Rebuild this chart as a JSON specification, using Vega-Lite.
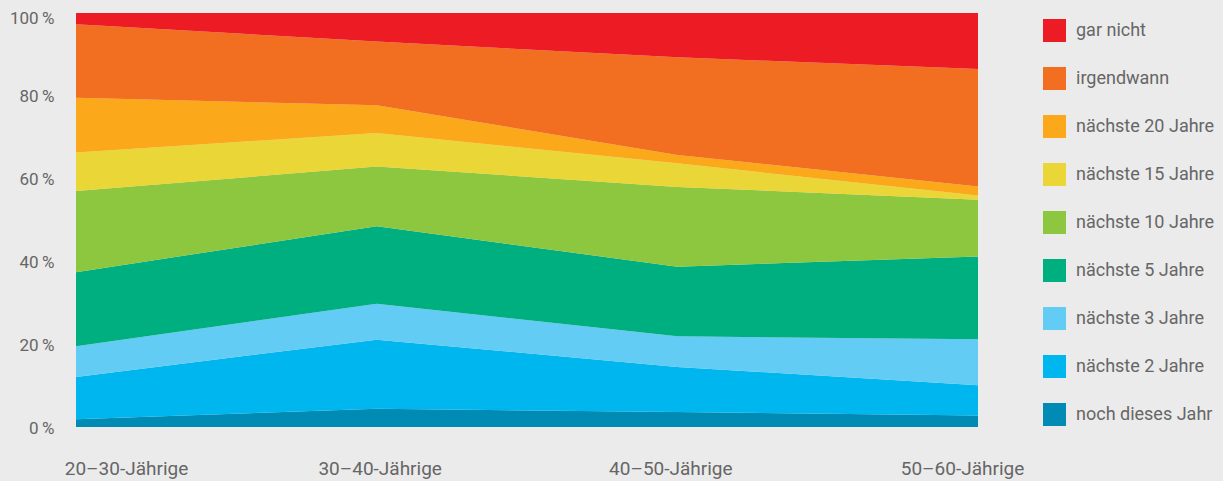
{
  "$schema": "https://vega.github.io/schema/vega-lite/v6.json",
  "width": 902,
  "height": 414,
  "autosize": {"type": "none"},
  "padding": {"left": 76, "top": 13, "right": 245, "bottom": 54},
  "background": "#EBEBEB",
  "config": {"view": {"stroke": null}, "font": "Roboto"},
  "data": {
    "values": [
      {"gruppe": "20–30-Jährige", "antwort": "noch dieses Jahr", "rang": 1, "anteil": 1.9},
      {"gruppe": "20–30-Jährige", "antwort": "nächste 2 Jahre", "rang": 2, "anteil": 10.2},
      {"gruppe": "20–30-Jährige", "antwort": "nächste 3 Jahre", "rang": 3, "anteil": 7.4},
      {"gruppe": "20–30-Jährige", "antwort": "nächste 5 Jahre", "rang": 4, "anteil": 17.9},
      {"gruppe": "20–30-Jährige", "antwort": "nächste 10 Jahre", "rang": 5, "anteil": 19.6},
      {"gruppe": "20–30-Jährige", "antwort": "nächste 15 Jahre", "rang": 6, "anteil": 9.3},
      {"gruppe": "20–30-Jährige", "antwort": "nächste 20 Jahre", "rang": 7, "anteil": 13.2},
      {"gruppe": "20–30-Jährige", "antwort": "irgendwann", "rang": 8, "anteil": 17.8},
      {"gruppe": "20–30-Jährige", "antwort": "gar nicht", "rang": 9, "anteil": 2.7},
      {"gruppe": "30–40-Jährige", "antwort": "noch dieses Jahr", "rang": 1, "anteil": 4.4},
      {"gruppe": "30–40-Jährige", "antwort": "nächste 2 Jahre", "rang": 2, "anteil": 16.7},
      {"gruppe": "30–40-Jährige", "antwort": "nächste 3 Jahre", "rang": 3, "anteil": 8.7},
      {"gruppe": "30–40-Jährige", "antwort": "nächste 5 Jahre", "rang": 4, "anteil": 18.7},
      {"gruppe": "30–40-Jährige", "antwort": "nächste 10 Jahre", "rang": 5, "anteil": 14.4},
      {"gruppe": "30–40-Jährige", "antwort": "nächste 15 Jahre", "rang": 6, "anteil": 8.1},
      {"gruppe": "30–40-Jährige", "antwort": "nächste 20 Jahre", "rang": 7, "anteil": 6.7},
      {"gruppe": "30–40-Jährige", "antwort": "irgendwann", "rang": 8, "anteil": 15.4},
      {"gruppe": "30–40-Jährige", "antwort": "gar nicht", "rang": 9, "anteil": 6.9},
      {"gruppe": "40–50-Jährige", "antwort": "noch dieses Jahr", "rang": 1, "anteil": 3.6},
      {"gruppe": "40–50-Jährige", "antwort": "nächste 2 Jahre", "rang": 2, "anteil": 10.9},
      {"gruppe": "40–50-Jährige", "antwort": "nächste 3 Jahre", "rang": 3, "anteil": 7.4},
      {"gruppe": "40–50-Jährige", "antwort": "nächste 5 Jahre", "rang": 4, "anteil": 16.8},
      {"gruppe": "40–50-Jährige", "antwort": "nächste 10 Jahre", "rang": 5, "anteil": 19.3},
      {"gruppe": "40–50-Jährige", "antwort": "nächste 15 Jahre", "rang": 6, "anteil": 5.7},
      {"gruppe": "40–50-Jährige", "antwort": "nächste 20 Jahre", "rang": 7, "anteil": 2.0},
      {"gruppe": "40–50-Jährige", "antwort": "irgendwann", "rang": 8, "anteil": 23.6},
      {"gruppe": "40–50-Jährige", "antwort": "gar nicht", "rang": 9, "anteil": 10.7},
      {"gruppe": "50–60-Jährige", "antwort": "noch dieses Jahr", "rang": 1, "anteil": 2.8},
      {"gruppe": "50–60-Jährige", "antwort": "nächste 2 Jahre", "rang": 2, "anteil": 7.3},
      {"gruppe": "50–60-Jährige", "antwort": "nächste 3 Jahre", "rang": 3, "anteil": 11.1},
      {"gruppe": "50–60-Jährige", "antwort": "nächste 5 Jahre", "rang": 4, "anteil": 20.0},
      {"gruppe": "50–60-Jährige", "antwort": "nächste 10 Jahre", "rang": 5, "anteil": 13.7},
      {"gruppe": "50–60-Jährige", "antwort": "nächste 15 Jahre", "rang": 6, "anteil": 1.0},
      {"gruppe": "50–60-Jährige", "antwort": "nächste 20 Jahre", "rang": 7, "anteil": 2.2},
      {"gruppe": "50–60-Jährige", "antwort": "irgendwann", "rang": 8, "anteil": 28.4},
      {"gruppe": "50–60-Jährige", "antwort": "gar nicht", "rang": 9, "anteil": 13.5}
    ]
  },
  "mark": {"type": "area", "interpolate": "linear"},
  "encoding": {
    "x": {
      "field": "gruppe",
      "type": "ordinal",
      "sort": ["20–30-Jährige", "30–40-Jährige", "40–50-Jährige", "50–60-Jährige"],
      "scale": {"type": "point", "padding": 0},
      "axis": {
        "title": null,
        "domain": false,
        "ticks": false,
        "labelAngle": 0,
        "labelOverlap": false,
        "labelFontSize": 19,
        "labelColor": "#666666",
        "labelPadding": 32,
        "labelOffset": {
          "condition": [
            {"test": "datum.value === '20–30-Jährige'", "value": 50},
            {"test": "datum.value === '30–40-Jährige'", "value": 3},
            {"test": "datum.value === '40–50-Jährige'", "value": -7}
          ],
          "value": -16
        }
      }
    },
    "y": {
      "field": "anteil",
      "type": "quantitative",
      "stack": "zero",
      "scale": {"domain": [0, 100], "nice": false},
      "axis": {
        "title": null,
        "domain": false,
        "ticks": false,
        "grid": false,
        "values": [0, 20, 40, 60, 80, 100],
        "labelExpr": "datum.value + '\u2009%'",
        "labelFontSize": 17,
        "labelColor": "#666666",
        "labelPadding": 22,
        "labelBaseline": "middle",
        "labelFlush": false,
        "labelOffset": {"condition": {"test": "datum.value === 100", "value": 5}, "value": 1}
      }
    },
    "color": {
      "field": "antwort",
      "type": "nominal",
      "scale": {
        "domain": ["gar nicht", "irgendwann", "nächste 20 Jahre", "nächste 15 Jahre", "nächste 10 Jahre", "nächste 5 Jahre", "nächste 3 Jahre", "nächste 2 Jahre", "noch dieses Jahr"],
        "range": ["#ED1C24", "#F26F21", "#FBA81A", "#EAD637", "#8DC63F", "#00AF7F", "#62CCF5", "#00B6EF", "#008BB5"]
      },
      "legend": {
        "title": null,
        "orient": "none",
        "legendX": 967,
        "legendY": 6,
        "padding": 0,
        "symbolType": "square",
        "symbolSize": 529,
        "symbolStrokeWidth": 0,
        "symbolOpacity": 1,
        "rowPadding": 25,
        "labelOffset": 10,
        "labelFontSize": 18,
        "labelColor": "#666666",
        "labelLimit": 300
      }
    },
    "order": {"field": "rang", "type": "quantitative"}
  }
}
